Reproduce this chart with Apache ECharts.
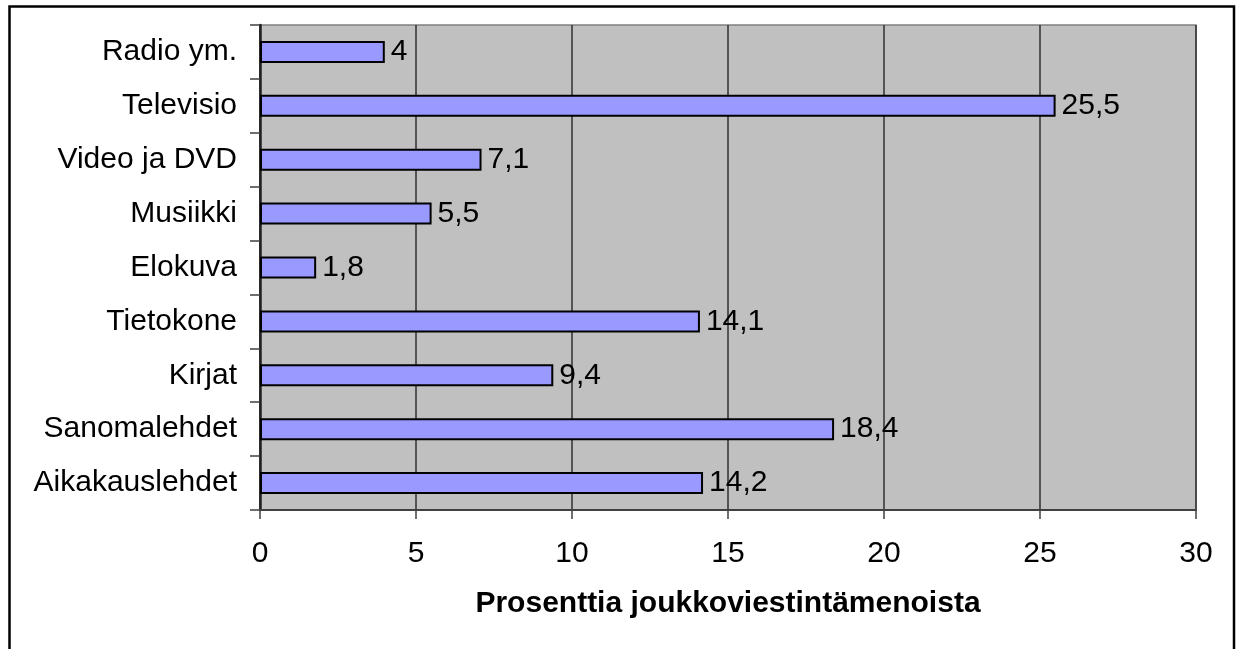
<!DOCTYPE html>
<html>
<head>
<meta charset="utf-8">
<script src="https://cdn.jsdelivr.net/npm/echarts@6/dist/echarts.min.js"></script>
<style>
html,body{margin:0;padding:0;background:#fff;}
#chart{width:1237px;height:649px;}
</style>
</head>
<body>
<div id="chart"></div>
<script>
const categories = ["Radio ym.", "Televisio", "Video ja DVD", "Musiikki", "Elokuva", "Tietokone", "Kirjat", "Sanomalehdet", "Aikakauslehdet"];
const values = [4, 25.5, 7.1, 5.5, 1.8, 14.1, 9.4, 18.4, 14.2];
const axisTitle = "Prosenttia joukkoviestintämenoista";

const FONT = "'Liberation Sans', Arial, sans-serif";
const chart = echarts.init(document.getElementById('chart'), null, {renderer: 'canvas'});
chart.setOption({
  animation: false,
  backgroundColor: '#ffffff',
  graphic: [{
    type: 'rect',
    shape: {x: 9.5, y: 6.5, width: 1224.5, height: 700},
    style: {fill: 'none', stroke: '#000', lineWidth: 2.5},
    z: 100
  }],
  grid: {left: 260, top: 25, right: 41, bottom: 139, show: true, backgroundColor: '#c0c0c0', borderColor: '#808080', borderWidth: 1.5},
  xAxis: {
    type: 'value', min: 0, max: 30, interval: 5,
    axisLine: {show: true, lineStyle: {color: '#404040', width: 2}},
    axisTick: {show: true, length: 9, lineStyle: {color: '#404040', width: 1.5}},
    splitLine: {show: true, lineStyle: {color: '#303030', width: 1.5}},
    axisLabel: {fontFamily: FONT, fontSize: 30, color: '#000', margin: 29,
      formatter: v => String(v)},
    name: axisTitle, nameLocation: 'middle', nameGap: 79,
    nameTextStyle: {fontFamily: FONT, fontSize: 30, fontWeight: 'bold', color: '#000'}
  },
  yAxis: {
    type: 'category', data: categories, inverse: true,
    axisLine: {show: true, lineStyle: {color: '#202020', width: 2.5}},
    axisTick: {show: true, length: 10, lineStyle: {color: '#404040', width: 1.5}},
    axisLabel: {fontFamily: FONT, fontSize: 30, color: '#000', margin: 23},
    splitLine: {show: false}
  },
  series: [{
    type: 'bar', data: values, barWidth: 22,
    itemStyle: {color: '#9999ff', borderColor: '#000', borderWidth: 2},
    label: {show: true, position: 'right', distance: 6, fontFamily: FONT, fontSize: 30, color: '#000',
      formatter: p => String(p.value).replace('.', ',')},
    z: 5
  }]
});
</script>
</body>
</html>
